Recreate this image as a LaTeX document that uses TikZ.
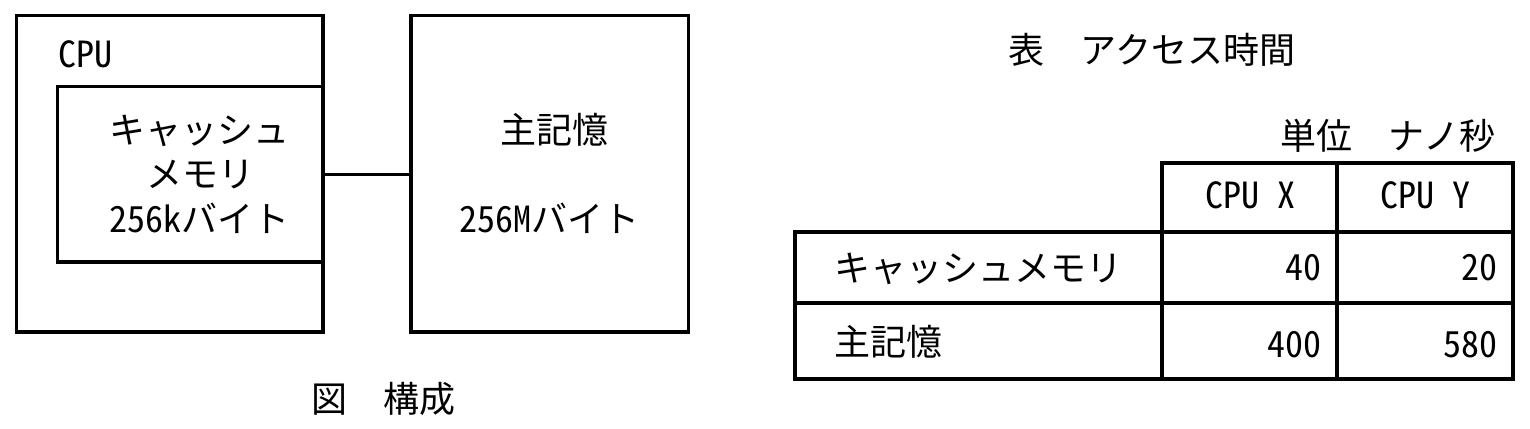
\documentclass[tikz,border=0pt]{standalone}
\usepackage{fontspec}
\setmainfont{Noto Sans CJK JP}
\newfontfamily\hw{Noto Sans CJK JP}[RawFeature=+hwid]
\begin{document}
\begin{tikzpicture}[x=0.5pt,y=-0.5pt,
  box/.style={draw=black, line width=1.65pt, inner sep=0pt, outer sep=0pt},
  txt/.style={font=\fontsize{18pt}{22pt}\selectfont, inner sep=0pt, outer sep=0pt},
  conn/.style={draw=black, line width=1.65pt}]
\useasboundingbox[fill=white] (0,0) rectangle (1530,428);
% --- figure: configuration
\node[box, minimum width=153.25pt, minimum height=158.25pt] (cpu) at (169.75,173.75) {};
\node[box, minimum width=132.75pt, minimum height=87.75pt] (cache) at (190.25,174.25) {};
\node[box, minimum width=138.75pt, minimum height=158.25pt] (mem) at (549.75,173.75) {};
\draw[conn] (cache.east) -- (cache.east -| mem.west);
\node[txt, anchor=base west] (cpulbl) at (58,67) {\hw CPU};
\node[txt, anchor=base] (c1) at (199,143) {キャッシュ};
\node[txt, anchor=base] (c2) at (200,187) {メモリ};
\node[txt, anchor=base] (c3) at (199,232) {{\hw 256k}バイト};
\node[txt, anchor=base] (m1) at (554,143) {主記憶};
\node[txt, anchor=base] (m2) at (549,232) {{\hw 256M}バイト};
\node[txt, anchor=base] (figcap) at (383.5,412) {図　構成};
% --- table: access time
\node[txt, anchor=base] (tabcap) at (1152,63) {表　アクセス時間};
\node[txt, anchor=base east] (unit) at (1495,149) {単位　ナノ秒};
\node[box, minimum width=87.5pt, minimum height=34.5pt] (hx) at (1249.5,197.5) {};
\node[box, minimum width=88pt, minimum height=34.5pt] (hy) at (1425,197.5) {};
\node[box, minimum width=183.5pt, minimum height=35.5pt] (r1l) at (978.5,267.5) {};
\node[box, minimum width=87.5pt, minimum height=35.5pt] (r1x) at (1249.5,267.5) {};
\node[box, minimum width=88pt, minimum height=35.5pt] (r1y) at (1425,267.5) {};
\node[box, minimum width=183.5pt, minimum height=38pt] (r2l) at (978.5,341) {};
\node[box, minimum width=87.5pt, minimum height=38pt] (r2x) at (1249.5,341) {};
\node[box, minimum width=88pt, minimum height=38pt] (r2y) at (1425,341) {};
\node[txt, anchor=base] (tx) at (1250,208) {\hw CPU X};
\node[txt, anchor=base] (ty) at (1425,208) {\hw CPU Y};
\node[txt, anchor=base west] (l1) at (834,281) {キャッシュメモリ};
\node[txt, anchor=base east] (v11) at (1321,280) {\hw 40};
\node[txt, anchor=base east] (v12) at (1497,280) {\hw 20};
\node[txt, anchor=base west] (l2) at (834,355) {主記憶};
\node[txt, anchor=base east] (v21) at (1321,357) {\hw 400};
\node[txt, anchor=base east] (v22) at (1497,357) {\hw 580};
\end{tikzpicture}
\end{document}
